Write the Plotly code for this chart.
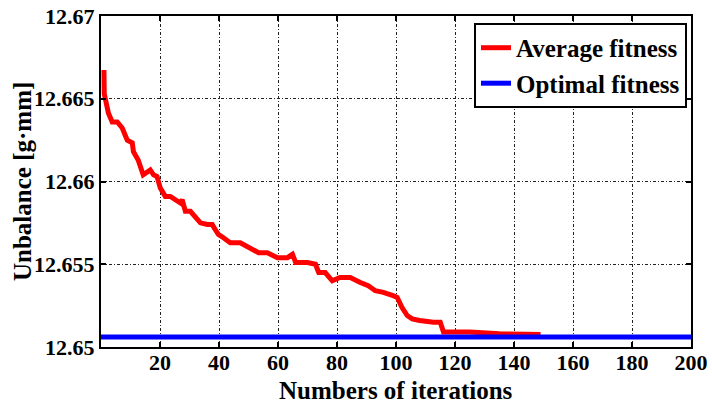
import plotly.graph_objects as go

# Average fitness of the population per iteration (sampled where the curve changes)
iterations = [1, 1.1, 2.5, 3.8, 5.5, 7.2, 8.9, 10.6, 11, 12.6, 14.3, 15.6, 16.7, 17.8, 19,
              20.1, 21.8, 23.5, 25.2, 26.9, 27.5, 28.6, 30.3, 32, 33.7, 36, 37.7, 38.7,
              39.8, 41.5, 43.8, 47.2, 50, 53.4, 56.4, 59.8, 63.2, 64.9, 66, 70, 72.7,
              73.8, 76, 78.4, 81, 84.5, 87.9, 90.6, 93, 95.7, 99, 100.4, 102, 103.8,
              105.5, 108, 112.7, 115, 116.1, 125, 135, 144.5, 149]
avg_fitness = [12.66674, 12.66530, 12.66414, 12.66360, 12.66360, 12.66323, 12.66250,
               12.66233, 12.66180, 12.66130, 12.66040, 12.66060, 12.66070, 12.66040,
               12.66030, 12.65960, 12.65910, 12.65910, 12.65890, 12.65870, 12.65890,
               12.65820, 12.65820, 12.65790, 12.65750, 12.65740, 12.65740, 12.65710,
               12.65680, 12.65660, 12.65630, 12.65630, 12.65600, 12.65570, 12.65570,
               12.65540, 12.65540, 12.65560, 12.65510, 12.65510, 12.65500, 12.65450,
               12.65450, 12.65400, 12.65420, 12.65420, 12.65390, 12.65370, 12.65340,
               12.65330, 12.65310, 12.65300, 12.65240, 12.65190, 12.65170, 12.65160,
               12.65150, 12.65150, 12.65090, 12.65090, 12.65080, 12.65080, 12.65075]

# Best (optimal) fitness over the whole run
opt_iterations = [0, 200]
opt_fitness = [12.65061, 12.65061]

x_ticks = [20, 40, 60, 80, 100, 120, 140, 160, 180, 200]
y_ticks = [12.65, 12.655, 12.66, 12.665, 12.67]
y_tick_text = ["12.65", "12.655", "12.66", "12.665", "12.67"]

x_title = "Numbers of iterations"
y_title = "Unbalance [g·mm]"

FONT = "Liberation Serif"
W, H = 712, 405
ML, MR, MT, MB = 101, 21, 16, 58

fig = go.Figure()
fig.add_trace(go.Scatter(x=iterations, y=avg_fitness, mode="lines",
                         name="Average fitness",
                         line=dict(color="#ff0000", width=5)))
fig.add_trace(go.Scatter(x=opt_iterations, y=opt_fitness, mode="lines",
                         name="Optimal fitness",
                         line=dict(color="#0000ff", width=5)))

axis_common = dict(
    showline=True, linecolor="black", linewidth=2, mirror="ticks",
    ticks="inside", ticklen=5, tickwidth=2, tickcolor="black",
    showgrid=True, gridcolor="#222222", gridwidth=1, griddash="3px,2px,1px,2px",
    zeroline=False, automargin=False,
    tickfont=dict(family=FONT, size=22, color="black", weight="bold"),
)

fig.update_xaxes(range=[0, 200], tickvals=x_ticks, ticklabelstandoff=-5, **axis_common)
fig.update_yaxes(range=[12.65, 12.67], tickvals=y_ticks, ticktext=y_tick_text,
                 ticklabelstandoff=0, **axis_common)

# Axis titles placed in paper pixels via annotations
pw = W - ML - MR
ph = H - MT - MB
fig.add_annotation(text=x_title, xref="paper", yref="paper",
                   x=(396 - ML) / pw, y=-(390 - (H - MB)) / ph,
                   xanchor="center", yanchor="middle", showarrow=False,
                   font=dict(family=FONT, size=25, color="black", weight="bold"))
fig.add_annotation(text=y_title, xref="paper", yref="paper", textangle=-90,
                   x=-(ML - 22) / pw, y=1 - (182 - MT) / ph,
                   xanchor="center", yanchor="middle", showarrow=False,
                   font=dict(family=FONT, size=25, color="black", weight="bold"))

fig.update_layout(
    width=W, height=H, autosize=False,
    margin=dict(l=ML, r=MR, t=MT, b=MB),
    plot_bgcolor="white", paper_bgcolor="white",
    legend=dict(x=0.9932, y=0.979, xanchor="right", yanchor="top",
                bgcolor="white", bordercolor="black", borderwidth=2,
                font=dict(family=FONT, size=25, color="black", weight="bold"),
                tracegroupgap=0),
    showlegend=True,
)

fig.write_html("out.html")
